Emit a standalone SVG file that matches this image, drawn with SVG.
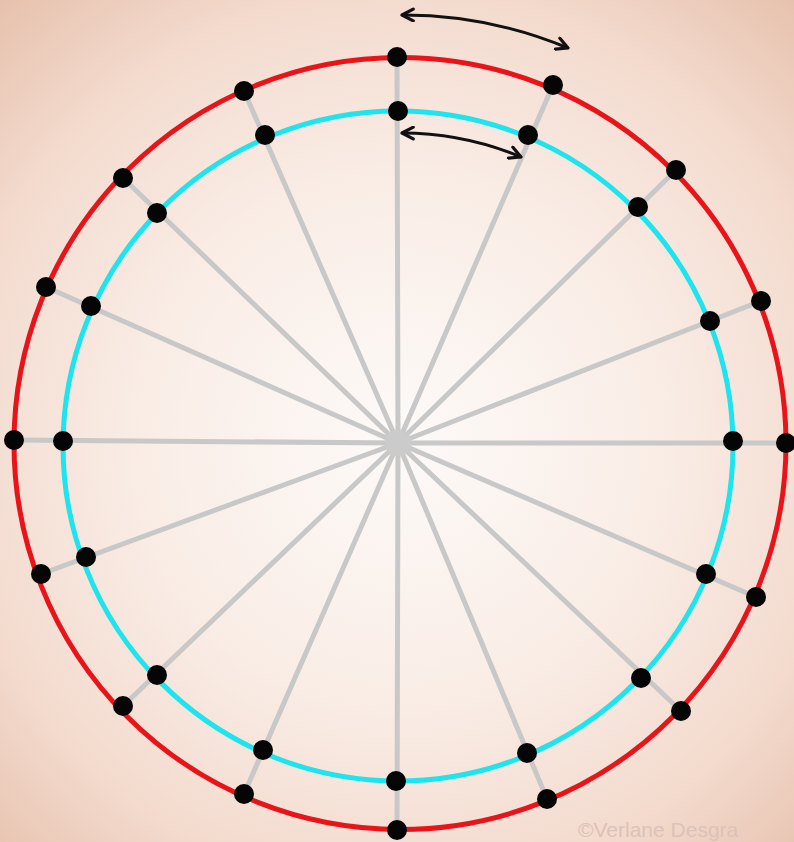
<svg xmlns="http://www.w3.org/2000/svg" width="794" height="842" viewBox="0 0 794 842">
<defs>
<radialGradient id="bg" cx="400" cy="440" r="600" gradientUnits="userSpaceOnUse">
<stop offset="0" stop-color="#fdfaf8"/>
<stop offset="0.45" stop-color="#f9ece5"/>
<stop offset="0.75" stop-color="#f3dacd"/>
<stop offset="1" stop-color="#e6c0ac"/>
</radialGradient>
<marker id="ah" viewBox="0 0 14 14" refX="12" refY="7" markerWidth="15" markerHeight="15" markerUnits="userSpaceOnUse" orient="auto-start-reverse">
<path d="M1.5,1.5 L12,7 L1.5,12.5" fill="none" stroke="#111" stroke-width="3" stroke-linecap="round" stroke-linejoin="round"/>
</marker>
<style>
.spoke{stroke:#c8c8c8;stroke-width:5;stroke-linecap:round}
.dot{fill:#050505}
.arr{fill:none;stroke:#111;stroke-width:3}
</style>
</defs>
<rect width="794" height="842" fill="url(#bg)"/>
<g id="spokes">
<line class="spoke" x1="398" y1="443" x2="397" y2="57"/>
<line class="spoke" x1="398" y1="443" x2="553" y2="85"/>
<line class="spoke" x1="398" y1="443" x2="676" y2="170"/>
<line class="spoke" x1="398" y1="443" x2="761" y2="301"/>
<line class="spoke" x1="398" y1="443" x2="786" y2="443"/>
<line class="spoke" x1="398" y1="443" x2="756" y2="597"/>
<line class="spoke" x1="398" y1="443" x2="681" y2="711"/>
<line class="spoke" x1="398" y1="443" x2="547" y2="799"/>
<line class="spoke" x1="398" y1="443" x2="397" y2="830"/>
<line class="spoke" x1="398" y1="443" x2="244" y2="794"/>
<line class="spoke" x1="398" y1="443" x2="123" y2="706"/>
<line class="spoke" x1="398" y1="443" x2="41" y2="574"/>
<line class="spoke" x1="398" y1="443" x2="14" y2="440"/>
<line class="spoke" x1="398" y1="443" x2="46" y2="287"/>
<line class="spoke" x1="398" y1="443" x2="123" y2="178"/>
<line class="spoke" x1="398" y1="443" x2="244" y2="91"/>
<circle cx="398" cy="443" r="13" fill="#cbcbcb"/>
</g>
<g id="outer-circle">
<circle cx="400" cy="443.5" r="386" fill="none" stroke="#e8141a" stroke-width="5"/>
</g>
<g id="inner-circle">
<circle cx="398" cy="446" r="335" fill="none" stroke="#1ee4ee" stroke-width="5"/>
</g>
<g id="outer-dots">
<circle class="dot" cx="397" cy="57" r="10"/>
<circle class="dot" cx="553" cy="85" r="10"/>
<circle class="dot" cx="676" cy="170" r="10"/>
<circle class="dot" cx="761" cy="301" r="10"/>
<circle class="dot" cx="786" cy="443" r="10"/>
<circle class="dot" cx="756" cy="597" r="10"/>
<circle class="dot" cx="681" cy="711" r="10"/>
<circle class="dot" cx="547" cy="799" r="10"/>
<circle class="dot" cx="397" cy="830" r="10"/>
<circle class="dot" cx="244" cy="794" r="10"/>
<circle class="dot" cx="123" cy="706" r="10"/>
<circle class="dot" cx="41" cy="574" r="10"/>
<circle class="dot" cx="14" cy="440" r="10"/>
<circle class="dot" cx="46" cy="287" r="10"/>
<circle class="dot" cx="123" cy="178" r="10"/>
<circle class="dot" cx="244" cy="91" r="10"/>
</g>
<g id="inner-dots">
<circle class="dot" cx="398" cy="111" r="10"/>
<circle class="dot" cx="528" cy="135" r="10"/>
<circle class="dot" cx="638" cy="207" r="10"/>
<circle class="dot" cx="710" cy="321" r="10"/>
<circle class="dot" cx="733" cy="441" r="10"/>
<circle class="dot" cx="706" cy="574" r="10"/>
<circle class="dot" cx="641" cy="678" r="10"/>
<circle class="dot" cx="527" cy="753" r="10"/>
<circle class="dot" cx="396" cy="781" r="10"/>
<circle class="dot" cx="263" cy="750" r="10"/>
<circle class="dot" cx="157" cy="675" r="10"/>
<circle class="dot" cx="86" cy="557" r="10"/>
<circle class="dot" cx="63" cy="441" r="10"/>
<circle class="dot" cx="91" cy="306" r="10"/>
<circle class="dot" cx="157" cy="213" r="10"/>
<circle class="dot" cx="265" cy="135" r="10"/>
</g>
<g id="connectors">
<path class="arr" d="M402,15 A428,428 0 0 1 568,48" marker-start="url(#ah)" marker-end="url(#ah)"/>
<path class="arr" d="M402,133 A310,310 0 0 1 521,157" marker-start="url(#ah)" marker-end="url(#ah)"/>
</g>
<text x="578" y="837" font-family="Liberation Sans, Arial, sans-serif" font-size="21" fill="#dcc2b8">©Verlane Desgra</text>
</svg>
